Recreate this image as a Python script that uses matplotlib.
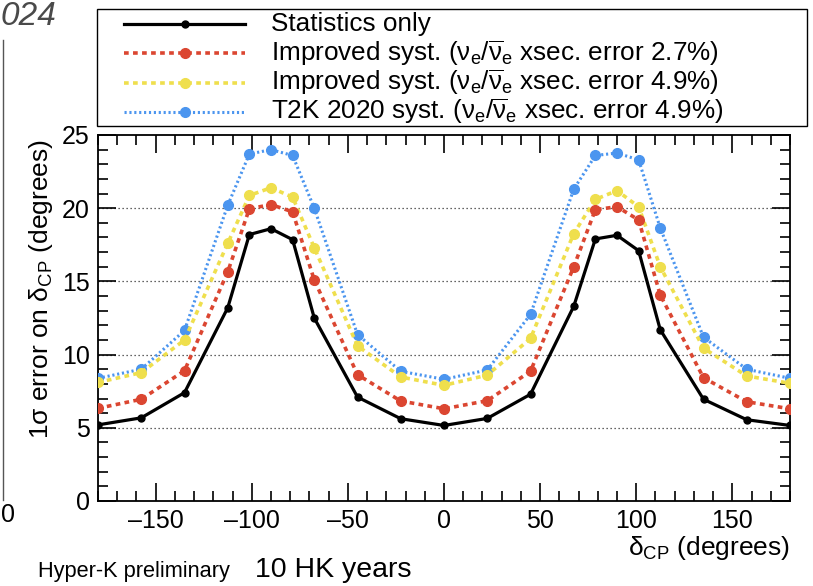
import matplotlib
matplotlib.use("Agg")
import matplotlib.pyplot as plt
from matplotlib.ticker import MultipleLocator, FuncFormatter
from matplotlib.lines import Line2D
from matplotlib.patches import Rectangle

plt.rcParams['font.family'] = ['Liberation Sans', 'DejaVu Sans']
plt.rcParams['mathtext.fontset'] = 'custom'
plt.rcParams['mathtext.rm'] = 'Liberation Sans'
plt.rcParams['mathtext.it'] = 'Liberation Sans:italic'
plt.rcParams['mathtext.bf'] = 'Liberation Sans:bold'

# ---------------- data ----------------
delta_cp = [-180, -157.5, -135, -112.5, -101.25, -90, -78.75, -67.5, -45, -22.5, 0,
            22.5, 45, 67.5, 78.75, 90, 101.25, 112.5, 135, 157.5, 180]
stat_only = [5.2, 5.68, 7.4, 13.2, 18.2, 18.6, 17.85, 12.5, 7.1, 5.62, 5.16,
             5.64, 7.29, 13.3, 17.9, 18.15, 17.1, 11.7, 6.95, 5.55, 5.16]
improved_27 = [6.33, 6.95, 8.9, 15.66, 19.96, 20.25, 19.75, 15.1, 8.63, 6.83, 6.3,
               6.85, 8.86, 16.0, 19.9, 20.1, 19.2, 14.07, 8.42, 6.78, 6.3]
improved_49 = [8.1, 8.77, 11.0, 17.6, 20.87, 21.4, 20.75, 17.3, 10.6, 8.47, 7.9,
               8.6, 11.1, 18.27, 20.6, 21.2, 20.1, 16.0, 10.44, 8.54, 8.04]
t2k2020 = [8.38, 9.0, 11.65, 20.2, 23.7, 24.0, 23.6, 20.0, 11.37, 8.86, 8.31,
           8.95, 12.74, 21.3, 23.6, 23.77, 23.3, 18.65, 11.19, 9.0, 8.38]
labels = ["Statistics only",
          r"Improved syst. ($\mathregular{\nu_e/\overline{\nu}_e}$ xsec. error 2.7%)",
          r"Improved syst. ($\mathregular{\nu_e/\overline{\nu}_e}$ xsec. error 4.9%)",
          r"T2K 2020 syst. ($\mathregular{\nu_e/\overline{\nu}_e}$ xsec. error 4.9%)"]
grid_levels = [5, 10, 15, 20]

W, H = 813, 586
fig = plt.figure(figsize=(W / 100, H / 100), dpi=100)
ax = fig.add_axes([98 / W, 1 - 501 / H, (790 - 98) / W, (501 - 135) / H])

for g in grid_levels:
    ax.axhline(g, color='#333333', lw=0.9, ls=(0, (1, 2.2)), zorder=1)

red = '#db4631'
yel = '#efdf4d'
blu = '#4b95ef'

styles = [
    dict(color='black', lw=2.3, ls='-', marker='o', ms=5),
    dict(color=red, lw=2.6, ls=(0, (1.3, 1.2)), marker='o', ms=7),
    dict(color=yel, lw=2.6, ls=(0, (1.3, 1.2)), marker='o', ms=7),
    dict(color=blu, lw=2.2, ls=(0, (0.7, 0.9)), marker='o', ms=7),
]
series = [stat_only, improved_27, improved_49, t2k2020]
zorders = [6, 5, 4, 3]
for ys, st, z in zip(series, styles, zorders):
    ax.plot(delta_cp, ys, zorder=z, **st)

ax.set_xlim(-180, 180)
ax.set_ylim(0, 25)
ax.xaxis.set_major_locator(MultipleLocator(50))
ax.xaxis.set_minor_locator(MultipleLocator(10))
ax.yaxis.set_major_locator(MultipleLocator(5))
ax.yaxis.set_minor_locator(MultipleLocator(1))
ax.xaxis.set_major_formatter(FuncFormatter(lambda v, p: f"{v:.0f}".replace('-', '\u2013')))
ax.tick_params(which='both', direction='in', top=True, right=True, width=1.2,
               labelsize=18, colors='black')
ax.tick_params(which='major', length=13)
ax.tick_params(which='minor', length=7)
ax.tick_params(axis='x', pad=6)
ax.tick_params(axis='y', pad=6)
for s in ax.spines.values():
    s.set_linewidth(1.3)

# legend box (drawn in pixel positions of the figure)
def fx(px):
    return px / W

def fy(py):
    return 1 - py / H

fig.add_artist(Rectangle((fx(97), fy(126.5)), fx(807) - fx(97), fy(9) - fy(126.5),
                         transform=fig.transFigure, fill=True, facecolor='white',
                         edgecolor='black', lw=1.0, zorder=10))
row_y = [23.5, 53, 82.5, 112]
for i, (st, lab) in enumerate(zip(styles, labels)):
    y = row_y[i]
    fig.add_artist(Line2D([fx(124), fx(245)], [fy(y), fy(y)], transform=fig.transFigure,
                          color=st['color'], lw=st['lw'], ls=st['ls'], zorder=11))
    fig.add_artist(Line2D([fx(184.5)], [fy(y)], transform=fig.transFigure,
                          color=st['color'], marker='o', ms=st['ms'], ls='none', zorder=12))
    fig.text(fx(271), fy(y + 7.5), lab, ha='left', va='baseline', fontsize=18.8, zorder=12)

# axis labels and captions
fig.text(41 / W, 1 - 289 / H, r"1σ error on δ$_\mathregular{CP}$ (degrees)",
         rotation=90, ha='center', va='center', fontsize=19)
fig.text(790 / W, 1 - 548 / H, r"δ$_\mathregular{CP}$ (degrees)",
         ha='right', va='center', fontsize=19)
fig.text(38 / W, 1 - 572 / H, "Hyper-K preliminary", ha='left', va='center', fontsize=15.7)
fig.text(255 / W, 1 - 570 / H, "10 HK years", ha='left', va='center', fontsize=20.5)

# fragments of neighbouring slide content at the left edge
fig.text(1 / W, 1 - 1 / H, "024", ha='left', va='top', fontsize=24,
         style='italic', color='#4a4a4a')
fig.add_artist(Line2D([3 / W, 3 / W], [1 - 40 / H, 1 - 500 / H], transform=fig.transFigure,
                      color='#555555', lw=1.0))
fig.text(1 / W, 1 - 515 / H, "0", ha='left', va='center', fontsize=18)

fig.savefig("out.png", dpi=100)
